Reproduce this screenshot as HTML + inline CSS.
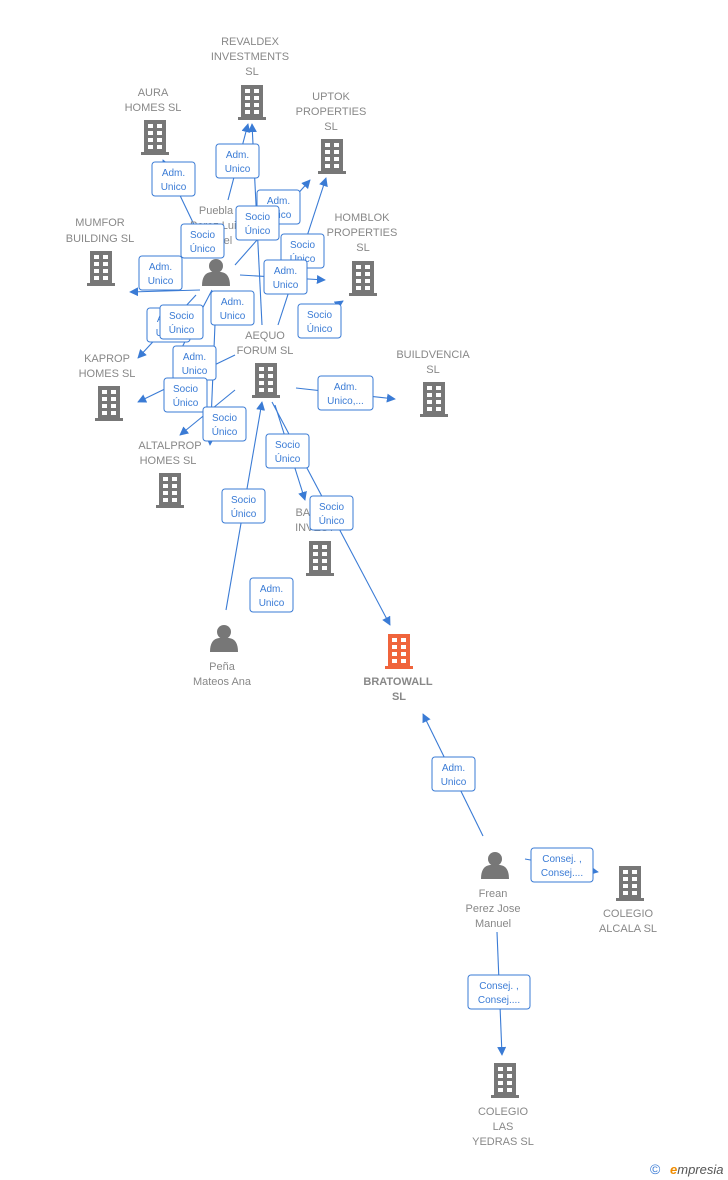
<!DOCTYPE html>
<html><head><meta charset="utf-8"><style>
html,body{margin:0;padding:0;background:#fff;width:728px;height:1180px;overflow:hidden}
svg{font-family:"Liberation Sans",sans-serif}
.t{font-size:11px;fill:#888;text-anchor:middle}
.b{font-size:11px;fill:#888;text-anchor:middle;font-weight:bold}
.l{font-size:10px;fill:#3a7bd5;text-anchor:middle}
.e{stroke:#3a7bd5;stroke-width:1.1;fill:none}
</style></head><body>
<svg width="728" height="1180" viewBox="0 0 728 1180">
<defs>
<marker id="a" viewBox="0 0 10 10" refX="9" refY="5" markerWidth="9" markerHeight="9" orient="auto-start-reverse" markerUnits="userSpaceOnUse"><path d="M0,0L10,5L0,10z" fill="#3a7bd5"/></marker>
<g id="bd"><rect x="-11" y="0" width="22" height="33" fill="#777"/><rect x="-14" y="32" width="28" height="3" fill="#777"/>
<g fill="#fff"><rect x="-7" y="4" width="5" height="4"/><rect x="2" y="4" width="5" height="4"/><rect x="-7" y="11" width="5" height="4"/><rect x="2" y="11" width="5" height="4"/><rect x="-7" y="18" width="5" height="4"/><rect x="2" y="18" width="5" height="4"/><rect x="-7" y="25" width="5" height="4"/><rect x="2" y="25" width="5" height="4"/></g></g>
<g id="bo"><rect x="-11" y="0" width="22" height="33" fill="#f0643c"/><rect x="-14" y="32" width="28" height="3" fill="#f0643c"/>
<g fill="#fff"><rect x="-7" y="4" width="5" height="4"/><rect x="2" y="4" width="5" height="4"/><rect x="-7" y="11" width="5" height="4"/><rect x="2" y="11" width="5" height="4"/><rect x="-7" y="18" width="5" height="4"/><rect x="2" y="18" width="5" height="4"/><rect x="-7" y="25" width="5" height="4"/><rect x="2" y="25" width="5" height="4"/></g></g>
<g id="ps" fill="#777"><circle cx="0" cy="8" r="7"/><path d="M-14,28 Q-14,15 -5,14 L5,14 Q14,15 14,28z"/></g>
</defs>
<g class="e" marker-end="url(#a)">
<path d="M228,200 L248,124"/>
<path d="M210,258 L163,160"/>
<path d="M235,265 L310,180"/>
<path d="M200,290 L130,292"/>
<path d="M240,275 L325,280"/>
<path d="M196,295 L138,358"/>
<path d="M262,325 L252,124"/>
<path d="M278,325 L326,178"/>
<path d="M298,330 L343,301"/>
<path d="M235,355 L138,402"/>
<path d="M296,388 L395,399"/>
<path d="M235,390 L180,435"/>
<path d="M212,290 L178,355"/>
<path d="M275,405 L305,500"/>
<path d="M272,402 L390,625"/>
<path d="M226,610 L262,402"/>
<path d="M483,836 L423,714"/>
<path d="M525,859 L598,872"/>
<path d="M497,932 L502,1055"/>
<path d="M216,300 L210,445"/>
</g>
<use href="#bd" x="252" y="85"/>
<text class="t" x="250" y="45">REVALDEX</text><text class="t" x="250" y="60">INVESTMENTS</text><text class="t" x="252" y="75">SL</text>
<use href="#bd" x="155" y="120"/>
<text class="t" x="153" y="96">AURA</text><text class="t" x="153" y="111">HOMES  SL</text>
<use href="#bd" x="332" y="139"/>
<text class="t" x="331" y="100">UPTOK</text><text class="t" x="331" y="115">PROPERTIES</text><text class="t" x="331" y="130">SL</text>
<use href="#bd" x="101" y="251"/>
<text class="t" x="100" y="226">MUMFOR</text><text class="t" x="100" y="242">BUILDING  SL</text>
<use href="#bd" x="363" y="261"/>
<text class="t" x="362" y="221">HOMBLOK</text><text class="t" x="362" y="236">PROPERTIES</text><text class="t" x="363" y="251">SL</text>
<use href="#ps" x="216" y="258"/>
<text class="t" x="216" y="214">Puebla</text><text class="t" x="216" y="229">Perez Luis</text><text class="t" x="216" y="244">Miguel</text>
<use href="#bd" x="266" y="363"/>
<text class="t" x="265" y="339">AEQUO</text><text class="t" x="265" y="354">FORUM  SL</text>
<use href="#bd" x="109" y="386"/>
<text class="t" x="107" y="362">KAPROP</text><text class="t" x="107" y="377">HOMES  SL</text>
<use href="#bd" x="434" y="382"/>
<text class="t" x="433" y="358">BUILDVENCIA</text><text class="t" x="433" y="373">SL</text>
<use href="#bd" x="170" y="473"/>
<text class="t" x="170" y="449">ALTALPROP</text><text class="t" x="168" y="464">HOMES  SL</text>
<use href="#bd" x="320" y="541"/>
<text class="t" x="315" y="516">BANCO</text><text class="t" x="315" y="531">INVEST</text>
<use href="#ps" x="224" y="624"/>
<text class="t" x="222" y="670">Peña</text><text class="t" x="222" y="685">Mateos Ana</text>
<use href="#bo" x="399" y="634"/>
<text class="b" x="398" y="685">BRATOWALL</text><text class="b" x="399" y="700">SL</text>
<use href="#ps" x="495" y="851"/>
<text class="t" x="493" y="897">Frean</text><text class="t" x="493" y="912">Perez Jose</text><text class="t" x="493" y="927">Manuel</text>
<use href="#bd" x="630" y="866"/>
<text class="t" x="628" y="917">COLEGIO</text><text class="t" x="628" y="932">ALCALA SL</text>
<use href="#bd" x="505" y="1063"/>
<text class="t" x="503" y="1115">COLEGIO</text><text class="t" x="503" y="1130">LAS</text><text class="t" x="503" y="1145">YEDRAS  SL</text>
<g id="lbls">
<g transform="translate(216,144)"><rect x="0" y="0" width="43" height="34" rx="3" fill="#fff" stroke="#3a7bd5"/><text class="l" x="21.5" y="14">Adm.</text><text class="l" x="21.5" y="28">Unico</text></g>
<g transform="translate(152,162)"><rect x="0" y="0" width="43" height="34" rx="3" fill="#fff" stroke="#3a7bd5"/><text class="l" x="21.5" y="14">Adm.</text><text class="l" x="21.5" y="28">Unico</text></g>
<g transform="translate(257,190)"><rect x="0" y="0" width="43" height="34" rx="3" fill="#fff" stroke="#3a7bd5"/><text class="l" x="21.5" y="14">Adm.</text><text class="l" x="21.5" y="28">Unico</text></g>
<g transform="translate(236,206)"><rect x="0" y="0" width="43" height="34" rx="3" fill="#fff" stroke="#3a7bd5"/><text class="l" x="21.5" y="14">Socio</text><text class="l" x="21.5" y="28">Único</text></g>
<g transform="translate(181,224)"><rect x="0" y="0" width="43" height="34" rx="3" fill="#fff" stroke="#3a7bd5"/><text class="l" x="21.5" y="14">Socio</text><text class="l" x="21.5" y="28">Único</text></g>
<g transform="translate(281,234)"><rect x="0" y="0" width="43" height="34" rx="3" fill="#fff" stroke="#3a7bd5"/><text class="l" x="21.5" y="14">Socio</text><text class="l" x="21.5" y="28">Único</text></g>
<g transform="translate(139,256)"><rect x="0" y="0" width="43" height="34" rx="3" fill="#fff" stroke="#3a7bd5"/><text class="l" x="21.5" y="14">Adm.</text><text class="l" x="21.5" y="28">Unico</text></g>
<g transform="translate(264,260)"><rect x="0" y="0" width="43" height="34" rx="3" fill="#fff" stroke="#3a7bd5"/><text class="l" x="21.5" y="14">Adm.</text><text class="l" x="21.5" y="28">Unico</text></g>
<g transform="translate(298,304)"><rect x="0" y="0" width="43" height="34" rx="3" fill="#fff" stroke="#3a7bd5"/><text class="l" x="21.5" y="14">Socio</text><text class="l" x="21.5" y="28">Único</text></g>
<g transform="translate(211,291)"><rect x="0" y="0" width="43" height="34" rx="3" fill="#fff" stroke="#3a7bd5"/><text class="l" x="21.5" y="14">Adm.</text><text class="l" x="21.5" y="28">Unico</text></g>
<g transform="translate(147,308)"><rect x="0" y="0" width="43" height="34" rx="3" fill="#fff" stroke="#3a7bd5"/><text class="l" x="21.5" y="14">Adm.</text><text class="l" x="21.5" y="28">Unico</text></g>
<g transform="translate(160,305)"><rect x="0" y="0" width="43" height="34" rx="3" fill="#fff" stroke="#3a7bd5"/><text class="l" x="21.5" y="14">Socio</text><text class="l" x="21.5" y="28">Único</text></g>
<g transform="translate(173,346)"><rect x="0" y="0" width="43" height="34" rx="3" fill="#fff" stroke="#3a7bd5"/><text class="l" x="21.5" y="14">Adm.</text><text class="l" x="21.5" y="28">Unico</text></g>
<g transform="translate(164,378)"><rect x="0" y="0" width="43" height="34" rx="3" fill="#fff" stroke="#3a7bd5"/><text class="l" x="21.5" y="14">Socio</text><text class="l" x="21.5" y="28">Único</text></g>
<g transform="translate(318,376)"><rect x="0" y="0" width="55" height="34" rx="3" fill="#fff" stroke="#3a7bd5"/><text class="l" x="27.5" y="14">Adm.</text><text class="l" x="27.5" y="28">Unico,...</text></g>
<g transform="translate(203,407)"><rect x="0" y="0" width="43" height="34" rx="3" fill="#fff" stroke="#3a7bd5"/><text class="l" x="21.5" y="14">Socio</text><text class="l" x="21.5" y="28">Único</text></g>
<g transform="translate(266,434)"><rect x="0" y="0" width="43" height="34" rx="3" fill="#fff" stroke="#3a7bd5"/><text class="l" x="21.5" y="14">Socio</text><text class="l" x="21.5" y="28">Único</text></g>
<g transform="translate(222,489)"><rect x="0" y="0" width="43" height="34" rx="3" fill="#fff" stroke="#3a7bd5"/><text class="l" x="21.5" y="14">Socio</text><text class="l" x="21.5" y="28">Único</text></g>
<g transform="translate(310,496)"><rect x="0" y="0" width="43" height="34" rx="3" fill="#fff" stroke="#3a7bd5"/><text class="l" x="21.5" y="14">Socio</text><text class="l" x="21.5" y="28">Único</text></g>
<g transform="translate(250,578)"><rect x="0" y="0" width="43" height="34" rx="3" fill="#fff" stroke="#3a7bd5"/><text class="l" x="21.5" y="14">Adm.</text><text class="l" x="21.5" y="28">Unico</text></g>
<g transform="translate(432,757)"><rect x="0" y="0" width="43" height="34" rx="3" fill="#fff" stroke="#3a7bd5"/><text class="l" x="21.5" y="14">Adm.</text><text class="l" x="21.5" y="28">Unico</text></g>
<g transform="translate(531,848)"><rect x="0" y="0" width="62" height="34" rx="3" fill="#fff" stroke="#3a7bd5"/><text class="l" x="31" y="14">Consej. ,</text><text class="l" x="31" y="28">Consej....</text></g>
<g transform="translate(468,975)"><rect x="0" y="0" width="62" height="34" rx="3" fill="#fff" stroke="#3a7bd5"/><text class="l" x="31" y="14">Consej. ,</text><text class="l" x="31" y="28">Consej....</text></g>
</g>
<text x="650" y="1174" font-size="14" fill="#3a7bd5">©</text>
<text x="670" y="1174" font-size="13" font-style="italic" fill="#555"><tspan fill="#f08c00" font-weight="bold">e</tspan>mpresia</text>
</svg>
</body></html>
